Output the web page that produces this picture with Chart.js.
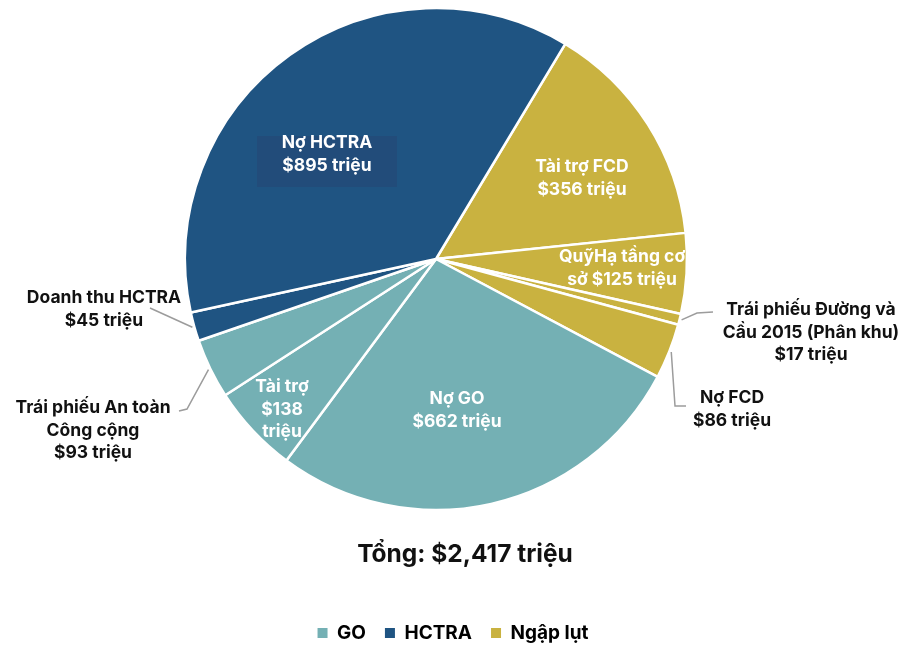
<!DOCTYPE html>
<html>
<head>
<meta charset="utf-8">
<script src="https://cdn.jsdelivr.net/npm/chart.js@4.4.1/dist/chart.umd.min.js"></script>
<style>
  html, body { margin: 0; padding: 0; background: #fff; }
  #wrap { width: 906px; height: 645px; position: relative; }
</style>
</head>
<body>
<div id="wrap"><canvas id="myChart"></canvas></div>
<script>
// du lieu (trieu USD), theo chieu kim dong ho
const tenPhan = [
  "Tài trợ FCD", "QuỹHạ tầng cơ sở", "Trái phiếu Đường và Cầu 2015 (Phân khu)",
  "Nợ FCD", "Nợ GO", "Tài trợ", "Trái phiếu An toàn Công cộng",
  "Doanh thu HCTRA", "Nợ HCTRA"
];
const giaTri = [356, 125, 17, 86, 662, 138, 93, 45, 895];
const nhom = ["Ngập lụt", "Ngập lụt", "Ngập lụt", "Ngập lụt", "GO", "GO", "GO", "HCTRA", "HCTRA"];
const nhanPhan = [
  ["Tài trợ FCD", "$356 triệu"],
  ["QuỹHạ tầng cơ", "sở $125 triệu"],
  ["Trái phiếu Đường và", "Cầu 2015 (Phân khu)", "$17 triệu"],
  ["Nợ FCD", "$86 triệu"],
  ["Nợ GO", "$662 triệu"],
  ["Tài trợ", "$138", "triệu"],
  ["Trái phiếu An toàn", "Công cộng", "$93 triệu"],
  ["Doanh thu HCTRA", "$45 triệu"],
  ["Nợ HCTRA", "$895 triệu"]
];
const tenNhom = ["GO", "HCTRA", "Ngập lụt"];
const tongCong = "Tổng: $2,417 triệu";

const mauNhom = { "GO": "#74b0b4", "HCTRA": "#1f5482", "Ngập lụt": "#c9b240" };

// vi tri nhan (tam x, y dong dau), duong dan
const bocuc = [
  { x: 582, y: 167, inside: true },
  { x: 622, y: 257, inside: true },
  { x: 811, y: 310, leader: [[697, 313], [713, 312]] },
  { x: 732, y: 398, leader: [[675, 406], [686, 406]] },
  { x: 457, y: 399, inside: true },
  { x: 282, y: 387, inside: true },
  { x: 93, y: 408, leader: [[187, 409], [179, 411]] },
  { x: 104, y: 298, leader: [[150, 308]] },
  { x: 327, y: 143, inside: true, box: [257, 136, 140, 51] }
];
const FONT = "Inter, 'Liberation Sans', sans-serif";
Chart.defaults.font.family = FONT;

// vung ve hinh tron: tam (436, 259); chu giai dich xuong mot chut
const vungTron = {
  id: "vungTron",
  afterLayout(chart) {
    const a = chart.chartArea;
    a.left = 0; a.right = 872; a.top = 0; a.bottom = 518;
    a.width = 872; a.height = 518;
    chart.legend.top += 7.5;
    chart.legend.bottom += 7.5;
  }
};

const nhanPlugin = {
  id: "nhanPhan",
  afterDatasetsDraw(chart) {
    const ctx = chart.ctx;
    const meta = chart.getDatasetMeta(0);
    ctx.save();
    meta.data.forEach((arc, i) => {
      const lay = bocuc[i];
      const p = arc.getProps(["x", "y", "startAngle", "endAngle", "outerRadius"], true);
      if (lay.box) {
        ctx.fillStyle = "#224c7a";
        ctx.fillRect(lay.box[0], lay.box[1], lay.box[2], lay.box[3]);
      }
      if (lay.leader) {
        const mid = (p.startAngle + p.endAngle) / 2;
        const r = p.outerRadius + 2;
        ctx.beginPath();
        ctx.moveTo(p.x + Math.cos(mid) * r, p.y + Math.sin(mid) * r);
        lay.leader.forEach(pt => ctx.lineTo(pt[0], pt[1]));
        ctx.strokeStyle = "#9c9c9c";
        ctx.lineWidth = 1.5;
        ctx.stroke();
      }
      ctx.fillStyle = lay.inside ? "#ffffff" : "#111111";
      ctx.font = "bold 17.5px " + FONT;
      ctx.textAlign = "center";
      ctx.textBaseline = "middle";
      nhanPhan[i].forEach((t, k) => ctx.fillText(t, lay.x, lay.y + k * 22.5));
    });
    // tong
    ctx.fillStyle = "#111111";
    ctx.font = "bold 24.5px " + FONT;
    ctx.fillText(tongCong, 465, 555);
    ctx.restore();
  }
};

const ctx = document.getElementById("myChart").getContext("2d");
new Chart(ctx, {
  type: "pie",
  data: {
    labels: tenPhan,
    datasets: [{
      data: giaTri,
      backgroundColor: nhom.map(n => mauNhom[n]),
      borderColor: "#ffffff",
      borderWidth: 2.5
    }]
  },
  options: {
    responsive: true,
    maintainAspectRatio: false,
    animation: false,
    rotation: 31,
    radius: 251,
    layout: { padding: { left: 0, right: 0, top: 0, bottom: 0 } },
    plugins: {
      tooltip: { enabled: false },
      title: { display: false },
      legend: {
        position: "bottom",
        labels: {
          boxWidth: 10,
          boxHeight: 10,
          padding: 19,
          color: "#111111",
          font: { size: 19, weight: "bold" },
          generateLabels: () => tenNhom.map(n => ({
            text: n,
            fillStyle: mauNhom[n],
            strokeStyle: mauNhom[n],
            lineWidth: 0,
            hidden: false
          }))
        }
      }
    }
  },
  plugins: [vungTron, nhanPlugin]
});
</script>
</body>
</html>
